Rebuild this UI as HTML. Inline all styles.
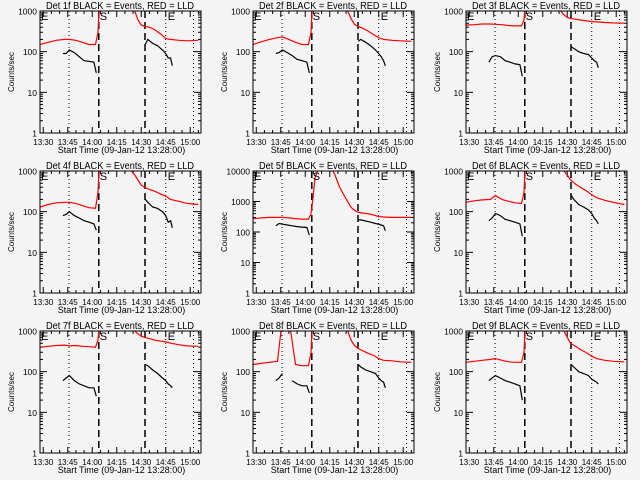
<!DOCTYPE html>
<html><head><meta charset="utf-8"><style>
html,body{margin:0;padding:0;background:#f4f4f4;}
svg{display:block;font-family:"Liberation Sans",sans-serif;}
</style></head><body>
<svg id="root" width="640" height="480" viewBox="0 0 640 480"></svg>
<script>
const detNames = ["1f","2f","3f","4f","5f","6f","7f","8f","9f"];
const yMaxes = [1000,1000,1000,1000,10000,1000,1000,1000,1000];
const redT = [0,5,10,15,18,22,26,30,34,35.5,36.5,38,40,44,48,50,53,56,58,60,62,64,67,70,74,77,80,85,90,97];
const redVals = [
 [150,170,190,200,200,190,170,150,150,300,2000,5000,5000,5000,5000,5000,5000,3000,1000,600,450,420,400,350,270,210,200,190,185,190],
 [150,175,200,220,230,200,170,150,150,300,2000,5000,5000,5000,5000,5000,5000,3000,1000,650,480,420,380,330,260,220,200,190,185,180],
 [450,460,480,480,470,460,440,430,430,600,2000,5000,5000,5000,5000,5000,5000,2000,1000,800,700,650,630,600,570,550,540,520,510,500],
 [130,150,165,170,170,160,140,125,120,300,2000,5000,5000,5000,5000,5000,5000,1000,800,600,450,400,350,320,270,240,200,180,160,150],
 [270,290,300,300,300,290,275,265,265,400,1000,6000,12000,12000,12000,8000,3000,1500,1000,650,520,450,420,400,360,320,310,300,300,300],
 [170,185,195,200,250,200,180,165,160,300,2000,5000,5000,5000,5000,5000,5000,5000,3000,1000,800,600,480,400,320,260,220,190,170,150],
 [400,420,440,450,430,440,420,410,400,600,2000,5000,5000,5000,5000,5000,5000,3000,1000,850,750,700,650,600,560,540,500,460,430,420],
 [150,160,170,180,2000,2000,150,140,140,300,2000,5000,5000,5000,5000,5000,5000,2000,1000,600,450,380,330,290,250,210,190,185,175,170],
 [170,180,190,200,210,190,175,170,170,300,2000,5000,5000,5000,5000,5000,5000,5000,2500,1000,700,500,420,350,290,240,210,190,180,175]
];
const blackPreT = [14,16,18,21,24,27,30,33,34.5];
const blackPostT = [64.5,66,69,72,75,77,78.5,80,81];
const blackPre = [
 [90,90,110,95,75,60,58,55,30],
 [90,95,110,95,80,65,60,55,30],
 [55,75,80,75,60,55,50,48,25],
 [80,85,100,80,70,60,55,50,35],
 [160,190,180,170,160,150,145,140,80],
 [60,70,90,80,65,60,55,50,25],
 [60,70,80,60,50,45,40,40,25],
 [60,70,90,null,60,50,45,45,30],
 [60,70,80,70,60,55,50,45,20]
];
const blackPost = [
 [150,200,160,140,110,90,70,70,45],
 [180,200,170,140,110,90,75,60,45],
 [130,120,100,90,85,70,60,55,40],
 [200,170,130,120,100,80,55,60,40],
 [250,250,230,210,190,180,170,160,110],
 [250,200,150,130,110,90,70,60,50],
 [150,140,110,90,70,60,50,45,40],
 [150,130,110,100,90,70,60,55,40],
 [150,130,100,90,80,65,60,55,50]
];
const xTickLabels = ["13:30","13:45","14:00","14:15","14:30","14:45","15:00"];
const xTickMins = [2,17,32,47,62,77,92];
const dottedT = [17.8,77,94];
const dashedT = [36,64.3];

const NS="http://www.w3.org/2000/svg";
const root=document.getElementById('root');
function mk(tag,attrs,parent){const e=document.createElementNS(NS,tag);for(const k in attrs)e.setAttribute(k,attrs[k]);parent.appendChild(e);return e;}

const X0=40,X1=201,Y0=11,Y1=133,TMAX=98.6;
detNames.forEach((d,i)=>{
  const ox=(i%3)*213, oy=Math.floor(i/3)*160;
  const g=mk('g',{transform:`translate(${ox},${oy})`},root);
  
  
  const ymax=yMaxes[i], dec=Math.log10(ymax);
  const xs=t=>X0+t/TMAX*(X1-X0);
  const ys=v=>Y1-Math.log10(v)/dec*(Y1-Y0);
  const cid='clip'+i;
  const cp=mk('clipPath',{id:cid},g);mk('rect',{x:X0,y:Y0,width:X1-X0,height:Y1-Y0},cp);
  const ti=mk('text',{x:46,y:9,'font-size':'10',textLength:148,lengthAdjust:'spacingAndGlyphs',fill:'#000'},g);
  ti.textContent=`Det ${d} BLACK = Events, RED = LLD`;
  
  
  const yl=mk('text',{x:0,y:0,'font-size':'8',transform:`translate(14,${(Y0+Y1)/2}) rotate(-90)`,'text-anchor':'middle'},g);
  yl.textContent='Counts/sec';
  
  
  const xl=mk('text',{x:(X0+X1)/2+1,y:153,'font-size':'9','text-anchor':'middle'},g);
  xl.textContent='Start Time (09-Jan-12 13:28:00)';
  
  
  for(let k=0;k<=dec;k++){
    const v=Math.pow(10,k),y=ys(v);
    mk('line',{x1:X0,x2:X0+7,y1:y,y2:y,stroke:'#000'},g);
    mk('line',{x1:X1-7,x2:X1,y1:y,y2:y,stroke:'#000'},g);
    const t=mk('text',{x:37,y:y+3.5,'font-size':'8.5','text-anchor':'end'},g);t.textContent=String(v);
    
    
    if(k<dec)for(let m=2;m<10;m++){const yy=ys(v*m);
      mk('line',{x1:X0,x2:X0+3,y1:yy,y2:yy,stroke:'#000'},g);
      mk('line',{x1:X1-3,x2:X1,y1:yy,y2:yy,stroke:'#000'},g);}
  }
  xTickMins.forEach((tm,j)=>{
    const x=xs(tm);
    mk('line',{x1:x,x2:x,y1:Y1,y2:Y1-6,stroke:'#000'},g);
    mk('line',{x1:x,x2:x,y1:Y0,y2:Y0+6,stroke:'#000'},g);
    const t=mk('text',{x:x,y:145,'font-size':'8','text-anchor':'middle'},g);t.textContent=xTickLabels[j];
    
    
  });
  for(let tm=7;tm<TMAX;tm+=15){const x=xs(tm);
    mk('line',{x1:x,x2:x,y1:Y1,y2:Y1-3,stroke:'#000'},g);mk('line',{x1:x,x2:x,y1:Y0,y2:Y0+3,stroke:'#000'},g);
    const x2=xs(tm+5);if(tm+5<TMAX){mk('line',{x1:x2,x2:x2,y1:Y1,y2:Y1-3,stroke:'#000'},g);mk('line',{x1:x2,x2:x2,y1:Y0,y2:Y0+3,stroke:'#000'},g);}}
  dottedT.forEach(t=>{const l=mk('line',{x1:xs(t),x2:xs(t),y1:Y0,y2:Y1,stroke:'#000','stroke-dasharray':'1,3'},g);
    });
  dashedT.forEach(t=>{const l=mk('line',{x1:xs(t),x2:xs(t),y1:Y0,y2:Y1,stroke:'#000','stroke-width':1.5,'stroke-dasharray':'7,4'},g);
    });
  const path=(T,V)=>{let s='',pen=false;T.forEach((t,j)=>{const v=V[j];if(v==null){pen=false;return;}
    s+=(pen?'L':'M')+xs(t).toFixed(1)+','+ys(v).toFixed(1);pen=true;});return s;};
  const r=mk('path',{d:path(redT,redVals[i]),fill:'none',stroke:'#ff0000','stroke-width':1.2,'clip-path':`url(#${cid})`},g);
  
  const b1=mk('path',{d:path(blackPreT,blackPre[i]),fill:'none',stroke:'#000','stroke-width':1.2,'clip-path':`url(#${cid})`},g);
  
  const b2=mk('path',{d:path(blackPostT,blackPost[i]),fill:'none',stroke:'#000','stroke-width':1.2,'clip-path':`url(#${cid})`},g);
  
  [["E",X0+1],["S",xs(36)+1],["E",xs(77)+2]].forEach(([c,x])=>{
    const t=mk('text',{x:x,y:Y0+9,'font-size':'11'},g);t.textContent=c;
    });
  const bx=mk('rect',{x:X0,y:Y0,width:X1-X0,height:Y1-Y0,fill:'none',stroke:'#000'},g);
  
});
</script>
</body></html>
